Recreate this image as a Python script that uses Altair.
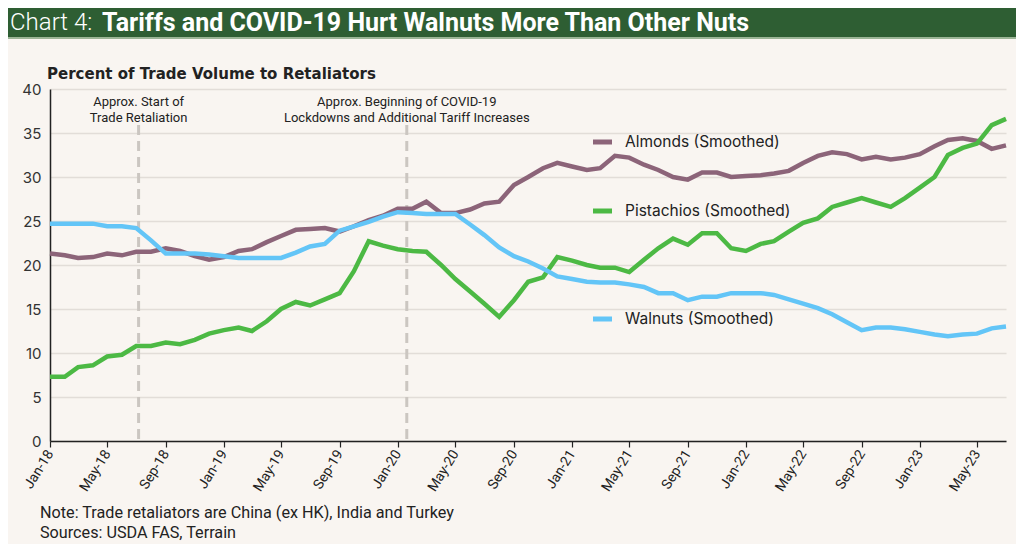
import altair as alt
import pandas as pd

# ---------------- data ----------------
MONTHS = pd.date_range("2018-01-01", periods=67, freq="MS")

ALMONDS = [21.3, 21.1, 20.8, 20.9, 21.3, 21.1, 21.5, 21.5, 21.9, 21.6,
           21.0, 20.6, 20.9, 21.6, 21.8, 22.6, 23.3, 24.0, 24.1, 24.2,
           23.8, 24.4, 25.1, 25.6, 26.4, 26.4, 27.2, 25.9, 25.9, 26.3,
           27.0, 27.2, 29.1, 30.0, 31.0, 31.6, 31.2, 30.8, 31.0, 32.4,
           32.2, 31.4, 30.8, 30.0, 29.7, 30.5, 30.5, 30.0, 30.1, 30.2,
           30.4, 30.7, 31.6, 32.4, 32.8, 32.6, 32.0, 32.3, 32.0, 32.2,
           32.6, 33.5, 34.2, 34.4, 34.1, 33.2, 33.6]

PISTACHIOS = [7.3, 7.3, 8.4, 8.6, 9.6, 9.8, 10.8, 10.8, 11.2, 11.0,
              11.5, 12.2, 12.6, 12.9, 12.5, 13.6, 15.0, 15.8, 15.4, 16.1,
              16.8, 19.3, 22.7, 22.2, 21.8, 21.6, 21.5, 20.0, 18.4, 17.0,
              15.6, 14.1, 16.0, 18.1, 18.6, 20.9, 20.5, 20.0, 19.7, 19.7,
              19.2, 20.6, 21.9, 23.0, 22.3, 23.6, 23.6, 21.9, 21.6, 22.4,
              22.7, 23.8, 24.8, 25.3, 26.6, 27.1, 27.6, 27.1, 26.6, 27.6,
              28.8, 30.0, 32.5, 33.3, 33.8, 35.9, 36.6]

WALNUTS = [24.7, 24.7, 24.7, 24.7, 24.4, 24.4, 24.2, 22.8, 21.3, 21.3,
           21.3, 21.2, 21.0, 20.8, 20.8, 20.8, 20.8, 21.4, 22.1, 22.4,
           23.9, 24.4, 24.9, 25.5, 26.0, 25.9, 25.8, 25.8, 25.8, 24.6,
           23.4, 22.0, 21.0, 20.4, 19.6, 18.7, 18.4, 18.1, 18.0, 18.0,
           17.8, 17.5, 16.8, 16.8, 16.0, 16.4, 16.4, 16.8, 16.8, 16.8,
           16.6, 16.1, 15.6, 15.1, 14.4, 13.5, 12.6, 12.9, 12.9, 12.7,
           12.4, 12.1, 11.9, 12.1, 12.2, 12.8, 13.0]

SERIES = ["Almonds (Smoothed)", "Pistachios (Smoothed)", "Walnuts (Smoothed)"]
COLORS = ["#8c6479", "#4cb944", "#63c5f7"]

TICK_MONTHS = [(2018, 1), (2018, 5), (2018, 9), (2019, 1), (2019, 5), (2019, 9),
               (2020, 1), (2020, 5), (2020, 9), (2021, 1), (2021, 5), (2021, 9),
               (2022, 1), (2022, 5), (2022, 9), (2023, 1), (2023, 5)]
Y_TICKS = [0, 5, 10, 15, 20, 25, 30, 35, 40]

EVENT_DATES = ["2018-07-06", "2020-01-20"]
EVENT_LABELS = ["Approx. Start of\nTrade Retaliation",
                "Approx. Beginning of COVID-19\nLockdowns and Additional Tariff Increases"]

TITLE_LEAD = "Chart 4:"
TITLE_MAIN = "Tariffs and COVID-19 Hurt Walnuts More Than Other Nuts"
Y_TITLE = "Percent of Trade Volume to Retaliators"
NOTE = "Note: Trade retaliators are China (ex HK), India and Turkey"
SOURCE = "Sources: USDA FAS, Terrain"

# ---------------- frames ----------------
df = pd.concat([
    pd.DataFrame({"month": MONTHS, "value": vals, "series": name})
    for name, vals in zip(SERIES, [ALMONDS, PISTACHIOS, WALNUTS])
])
events = pd.DataFrame({"date": pd.to_datetime(EVENT_DATES), "label": EVENT_LABELS})
one = pd.DataFrame({"a": [0]})

COND = "Roboto"
SANS = "Inter"

W, H = 956, 352
PL, PT = 42, 81
TOTAL_W, TOTAL_H = 1008, 536

xscale = alt.Scale(domain=[alt.DateTime(year=2018, month=1, date=1),
                           alt.DateTime(year=2023, month=7, date=1)])
yscale = alt.Scale(domain=[0, 40], nice=False, zero=True)

base = alt.Chart(one)

header = base.mark_rect(color="#2e5e33").encode(
    x=alt.value(-PL), x2=alt.value(TOTAL_W - PL),
    y=alt.value(-PT), y2=alt.value(-52))
header_strip = base.mark_rect(color="#9bb596").encode(
    x=alt.value(-PL), x2=alt.value(TOTAL_W - PL),
    y=alt.value(-52), y2=alt.value(-50))
title_lead = base.mark_text(font=COND, fontSize=24, fontWeight=300, color="white",
                            align="left", baseline="middle").encode(
    x=alt.value(-40), y=alt.value(-66), text=alt.value(TITLE_LEAD))
title_main = base.mark_text(font=COND, fontSize=25, fontWeight="bold", color="white",
                            align="left", baseline="middle").encode(
    x=alt.value(52), y=alt.value(-66), text=alt.value(TITLE_MAIN))
y_title = base.mark_text(font="DejaVu Sans", fontSize=15, fontWeight="bold", color="#222222",
                         align="left", baseline="middle").encode(
    x=alt.value(-3), y=alt.value(-15), text=alt.value(Y_TITLE))

event_rules = alt.Chart(events).mark_rule(color="#cbc6c1", strokeWidth=3,
                                          strokeDash=[10, 6]).encode(
    x=alt.X("date:T", scale=xscale),
    y=alt.value(36), y2=alt.value(H))
event_text = alt.Chart(events).mark_text(font=COND, fontSize=13, color="#222222",
                                         align="center", baseline="middle",
                                         lineBreak="\n", lineHeight=16).encode(
    x=alt.X("date:T", scale=xscale),
    y=alt.value(13), text="label:N")

lines = alt.Chart(df).mark_line(strokeWidth=4.5, strokeJoin="miter").encode(
    x=alt.X("month:T", scale=xscale, title=None,
            axis=alt.Axis(values=[alt.DateTime(year=y, month=m, date=1) for y, m in TICK_MONTHS],
                          format="%b-%y", labelAngle=-58, labelAlign="right",
                          labelBaseline="middle", labelFont=COND, labelFontSize=14,
                          labelColor="#222222", labelPadding=4, domainColor="#222222",
                          domainWidth=1.5, tickColor="#222222", tickSize=6, tickWidth=1.2,
                          grid=False)),
    y=alt.Y("value:Q", scale=yscale, title=None,
            axis=alt.Axis(values=Y_TICKS, labelFont=SANS, labelFontSize=15,
                          labelColor="#333333", labelPadding=9, domainColor="#222222",
                          domainWidth=1.5, ticks=False, gridColor="#e2ddd8",
                          gridWidth=1.5)),
    color=alt.Color("series:N", scale=alt.Scale(domain=SERIES, range=COLORS), legend=None),
    detail="series:N")

legend_y = [53, 122, 230]
legend_layers = []
for name, col, ly in zip(SERIES, COLORS, legend_y):
    legend_layers.append(base.mark_rule(color=col, strokeWidth=5).encode(
        x=alt.value(543), x2=alt.value(562), y=alt.value(ly)))
    legend_layers.append(base.mark_text(font=SANS, fontSize=15.5, color="#222222",
                                        align="left", baseline="middle").encode(
        x=alt.value(575), y=alt.value(ly), text=alt.value(name)))

note = base.mark_text(font=COND, fontSize=16.2, color="#222222", align="left",
                      baseline="middle").encode(
    x=alt.value(-10), y=alt.value(424), text=alt.value(NOTE))
source = base.mark_text(font=COND, fontSize=16.2, color="#222222", align="left",
                        baseline="middle").encode(
    x=alt.value(-10), y=alt.value(444), text=alt.value(SOURCE))

chart = alt.layer(
    header, header_strip, title_lead, title_main, y_title,
    event_rules, event_text, lines, *legend_layers, note, source
).properties(
    width=W, height=H,
    autosize=alt.AutoSizeParams(type="none"),
    padding={"left": PL, "top": PT, "right": TOTAL_W - PL - W, "bottom": TOTAL_H - PT - H},
    background="#f9f5f1",
).configure_view(stroke=None)

chart.save("out.html", embed_options={"renderer": "svg", "actions": False})
